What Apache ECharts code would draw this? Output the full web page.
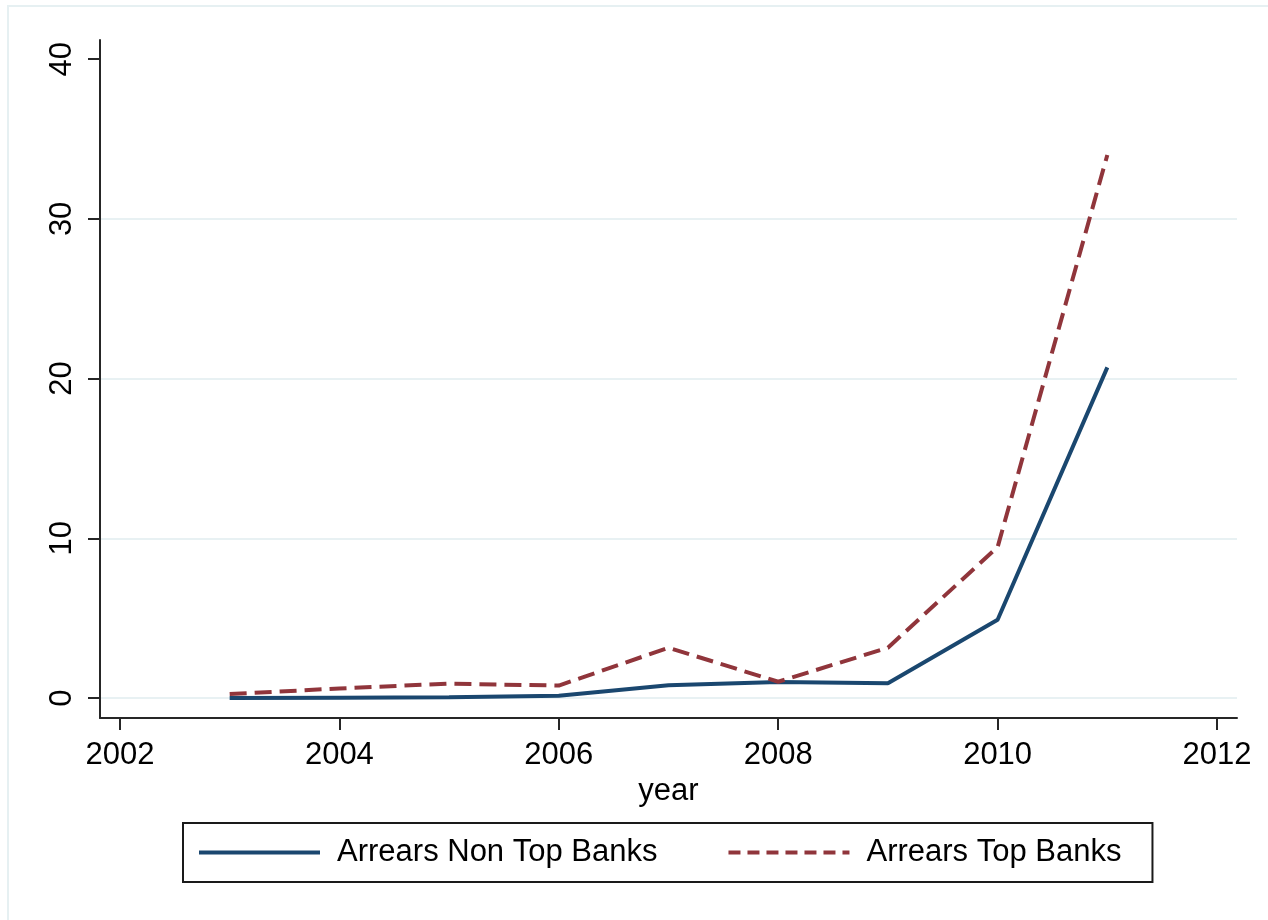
<!DOCTYPE html>
<html>
<head>
<meta charset="utf-8">
<script src="https://cdn.jsdelivr.net/npm/echarts@6/dist/echarts.min.js"></script>
<style>
  html, body { margin: 0; padding: 0; background: #ffffff; }
  #chart { width: 1268px; height: 920px; }
</style>
</head>
<body>
<div id="chart"></div>
<script>
// Arrears by year, top banks vs. the rest
const years = [2003, 2004, 2005, 2006, 2007, 2008, 2009, 2010, 2011];
const arrearsNonTop = [0.0, 0.02, 0.05, 0.15, 0.8, 1.0, 0.93, 4.9, 20.7];
const arrearsTop = [0.25, 0.6, 0.9, 0.78, 3.15, 1.02, 3.15, 9.45, 34.0];

const xTicks = [2002, 2004, 2006, 2008, 2010, 2012];
const yTicks = [0, 10, 20, 30, 40];
const yGridValues = [0, 10, 20, 30];

const seriesNames = ['Arrears Non Top Banks', 'Arrears Top Banks'];

const FONT = '"Liberation Sans", Arial, sans-serif';
const NAVY = '#1a476f';
const MAROON = '#90353b';
const AXIS = '#262626';

const pairs = (xs, ys) => xs.map((x, i) => [x, ys[i]]);

const chart = echarts.init(document.getElementById('chart'), null, { renderer: 'canvas' });

chart.setOption({
  backgroundColor: '#ffffff',
  animation: false,
  textStyle: { fontFamily: FONT },
  graphic: [{
    type: 'rect',
    z: -10,
    silent: true,
    shape: { x: 8, y: 6, width: 1300, height: 1000 },
    style: { fill: null, stroke: '#e6f0f2', lineWidth: 2 }
  }],
  grid: { left: 100, right: 31, top: 40, bottom: 202, containLabel: false },
  xAxis: {
    type: 'value',
    min: 2001.818,
    max: 2012.182,
    name: 'year',
    nameLocation: 'middle',
    nameGap: 56,
    nameTextStyle: { fontSize: 31, color: '#000', fontFamily: FONT },
    axisLine: { show: true, onZero: false, lineStyle: { color: AXIS, width: 2 } },
    axisTick: { show: true, length: 12, lineStyle: { color: AXIS, width: 2 }, customValues: xTicks },
    axisLabel: {
      fontSize: 31, color: '#000', margin: 22, fontFamily: FONT,
      customValues: xTicks,
      formatter: v => String(v)
    },
    splitLine: { show: false }
  },
  yAxis: {
    type: 'value',
    min: -1.25,
    max: 41.2,
    axisLine: { show: true, onZero: false, lineStyle: { color: AXIS, width: 2 } },
    axisTick: { show: true, length: 12, lineStyle: { color: AXIS, width: 2 }, customValues: yTicks },
    axisLabel: {
      fontSize: 31, color: '#000', margin: 22, rotate: 90, fontFamily: FONT,
      customValues: yTicks,
      formatter: v => String(v)
    },
    splitLine: { show: false }
  },
  legend: {
    left: 183,
    top: 823,
    orient: 'horizontal',
    padding: [14, 31, 14, 14],
    itemGap: 69,
    itemWidth: 121,
    itemHeight: 2,
    borderColor: '#1a1a1a',
    borderWidth: 2,
    backgroundColor: '#ffffff',
    itemStyle: { opacity: 0 },
    lineStyle: { width: 4 },
    textStyle: { fontSize: 31, color: '#000', fontFamily: FONT, padding: [0, 0, 0, 12] },
    data: [
      { name: seriesNames[0] },
      { name: seriesNames[1], lineStyle: { type: [12, 7], width: 4 } }
    ]
  },
  series: [
    {
      // horizontal reference lines at the labelled y ticks
      name: 'grid',
      type: 'line',
      data: [],
      z: 0,
      silent: true,
      markLine: {
        silent: true,
        z: 0,
        symbol: ['none', 'none'],
        label: { show: false },
        lineStyle: { color: '#e8f1f3', width: 2, type: 'solid' },
        emphasis: { disabled: true },
        data: yGridValues.map(v => ({ yAxis: v }))
      }
    },
    {
      name: seriesNames[0],
      type: 'line',
      z: 3,
      symbol: 'none',
      data: pairs(years, arrearsNonTop),
      lineStyle: { color: NAVY, width: 4, type: 'solid' },
      itemStyle: { color: NAVY }
    },
    {
      name: seriesNames[1],
      type: 'line',
      z: 4,
      symbol: 'none',
      data: pairs(years, arrearsTop),
      lineStyle: { color: MAROON, width: 4, type: [17, 8] },
      itemStyle: { color: MAROON }
    }
  ]
});
</script>
</body>
</html>
